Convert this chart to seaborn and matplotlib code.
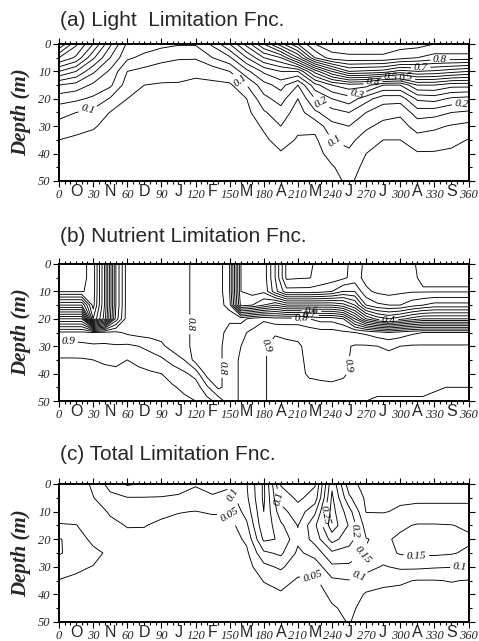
import numpy as np
import pandas as pd
import seaborn as sns
import matplotlib
matplotlib.use("Agg")
import matplotlib.pyplot as plt
from matplotlib.ticker import MultipleLocator

# ---------------- data ----------------
depths = [0, 5, 10, 15, 20, 25, 30, 35, 40, 45, 50]
days15 = list(range(0, 361, 15))
days10 = list(range(0, 361, 10))
xtick_vals = list(range(0, 361, 30))
ytick_vals = list(range(0, 51, 10))
months = ["O", "N", "D", "J", "F", "M", "A", "M", "J", "J", "A", "S"]
month_pos = list(range(15, 360, 30))

# (a) light limitation, one list per day (days15), values at depths
light_cols = [
    [0.70, 0.55, 0.40, 0.25, 0.17, 0.12, 0.08, 0.05, 0.03, 0.02, 0.01],
    [0.56, 0.49, 0.35, 0.23, 0.16, 0.10, 0.065, 0.042, 0.03, 0.02, 0.01],
    [0.45, 0.36, 0.26, 0.19, 0.14, 0.085, 0.055, 0.035, 0.025, 0.015, 0.01],
    [0.31, 0.25, 0.19, 0.16, 0.095, 0.048, 0.035, 0.025, 0.02, 0.015, 0.01],
    [0.19, 0.16, 0.10, 0.075, 0.05, 0.035, 0.025, 0.02, 0.015, 0.01, 0.005],
    [0.18, 0.135, 0.085, 0.05, 0.04, 0.03, 0.02, 0.015, 0.01, 0.01, 0.005],
    [0.165, 0.115, 0.075, 0.045, 0.035, 0.025, 0.02, 0.015, 0.01, 0.01, 0.005],
    [0.155, 0.105, 0.07, 0.045, 0.035, 0.025, 0.02, 0.015, 0.01, 0.01, 0.005],
    [0.155, 0.105, 0.06, 0.04, 0.03, 0.025, 0.02, 0.015, 0.01, 0.01, 0.005],
    [0.21, 0.15, 0.07, 0.04, 0.03, 0.025, 0.02, 0.015, 0.01, 0.01, 0.005],
    [0.30, 0.19, 0.10, 0.04, 0.03, 0.025, 0.02, 0.015, 0.01, 0.01, 0.005],
    [0.42, 0.30, 0.185, 0.10, 0.05, 0.035, 0.025, 0.02, 0.015, 0.01, 0.01],
    [0.55, 0.40, 0.26, 0.18, 0.135, 0.093, 0.057, 0.04, 0.03, 0.02, 0.015],
    [0.68, 0.45, 0.30, 0.22, 0.17, 0.13, 0.10, 0.07, 0.045, 0.03, 0.02],
    [0.80, 0.60, 0.30, 0.15, 0.10, 0.075, 0.06, 0.045, 0.035, 0.025, 0.02],
    [0.90, 0.80, 0.47, 0.28, 0.20, 0.14, 0.065, 0.04, 0.03, 0.02, 0.015],
    [0.93, 0.88, 0.60, 0.35, 0.25, 0.18, 0.135, 0.10, 0.07, 0.045, 0.035],
    [0.93, 0.89, 0.70, 0.38, 0.28, 0.20, 0.15, 0.115, 0.09, 0.075, 0.06],
    [0.93, 0.89, 0.69, 0.37, 0.22, 0.15, 0.11, 0.075, 0.05, 0.035, 0.025],
    [0.93, 0.89, 0.68, 0.30, 0.17, 0.12, 0.085, 0.05, 0.035, 0.025, 0.02],
    [0.92, 0.87, 0.63, 0.30, 0.17, 0.11, 0.08, 0.05, 0.035, 0.025, 0.02],
    [0.92, 0.85, 0.65, 0.40, 0.26, 0.175, 0.12, 0.08, 0.045, 0.03, 0.02],
    [0.90, 0.83, 0.64, 0.40, 0.27, 0.17, 0.11, 0.075, 0.045, 0.03, 0.02],
    [0.90, 0.83, 0.62, 0.37, 0.24, 0.15, 0.095, 0.065, 0.04, 0.03, 0.02],
    [0.90, 0.83, 0.60, 0.37, 0.23, 0.14, 0.085, 0.048, 0.035, 0.025, 0.02],
]

# (b) nutrient limitation, one list per day (days10)
nutrient_cols = [
    [0.03, 0.03, 0.045, 0.30, 0.60, 0.86, 0.92, 0.955, 0.97, 0.97, 0.97],
    [0.03, 0.03, 0.045, 0.30, 0.60, 0.86, 0.92, 0.955, 0.97, 0.97, 0.97],
    [0.035, 0.035, 0.045, 0.30, 0.60, 0.86, 0.915, 0.955, 0.965, 0.97, 0.97],
    [0.07, 0.07, 0.07, 0.08, 0.15, 0.85, 0.91, 0.95, 0.965, 0.97, 0.97],
    [0.30, 0.30, 0.30, 0.30, 0.32, 0.86, 0.91, 0.945, 0.96, 0.97, 0.97],
    [0.65, 0.65, 0.65, 0.65, 0.67, 0.86, 0.905, 0.94, 0.96, 0.97, 0.97],
    [0.83, 0.83, 0.83, 0.83, 0.83, 0.84, 0.91, 0.95, 0.96, 0.97, 0.97],
    [0.83, 0.83, 0.83, 0.83, 0.83, 0.83, 0.90, 0.94, 0.96, 0.97, 0.97],
    [0.83, 0.83, 0.83, 0.83, 0.83, 0.83, 0.88, 0.93, 0.955, 0.97, 0.97],
    [0.83, 0.83, 0.83, 0.83, 0.83, 0.83, 0.86, 0.91, 0.95, 0.96, 0.97],
    [0.83, 0.83, 0.83, 0.83, 0.83, 0.83, 0.83, 0.88, 0.93, 0.955, 0.97],
    [0.82, 0.82, 0.82, 0.82, 0.82, 0.82, 0.82, 0.85, 0.91, 0.94, 0.96],
    [0.78, 0.78, 0.78, 0.78, 0.78, 0.78, 0.78, 0.78, 0.88, 0.93, 0.95],
    [0.78, 0.78, 0.78, 0.78, 0.78, 0.78, 0.78, 0.78, 0.78, 0.86, 0.92],
    [0.78, 0.78, 0.78, 0.78, 0.78, 0.79, 0.79, 0.79, 0.79, 0.79, 0.88],
    [0.70, 0.70, 0.70, 0.72, 0.795, 0.81, 0.82, 0.82, 0.82, 0.82, 0.82],
    [0.35, 0.35, 0.35, 0.38, 0.78, 0.84, 0.85, 0.86, 0.86, 0.86, 0.86],
    [0.33, 0.33, 0.33, 0.40, 0.82, 0.86, 0.87, 0.88, 0.88, 0.88, 0.88],
    [0.33, 0.33, 0.34, 0.45, 0.84, 0.89, 0.895, 0.895, 0.895, 0.895, 0.895],
    [0.20, 0.20, 0.22, 0.50, 0.82, 0.895, 0.915, 0.915, 0.915, 0.915, 0.915],
    [0.04, 0.04, 0.12, 0.45, 0.82, 0.89, 0.91, 0.92, 0.92, 0.92, 0.92],
    [0.04, 0.045, 0.12, 0.45, 0.82, 0.89, 0.905, 0.91, 0.91, 0.91, 0.915],
    [0.045, 0.048, 0.12, 0.45, 0.80, 0.88, 0.89, 0.89, 0.895, 0.91, 0.915],
    [0.06, 0.065, 0.13, 0.45, 0.78, 0.87, 0.88, 0.885, 0.89, 0.91, 0.915],
    [0.07, 0.075, 0.15, 0.45, 0.78, 0.87, 0.88, 0.88, 0.885, 0.91, 0.92],
    [0.085, 0.09, 0.20, 0.42, 0.75, 0.86, 0.89, 0.89, 0.895, 0.91, 0.92],
    [0.12, 0.12, 0.20, 0.35, 0.60, 0.85, 0.905, 0.91, 0.91, 0.92, 0.93],
    [0.09, 0.085, 0.11, 0.20, 0.45, 0.84, 0.905, 0.91, 0.92, 0.93, 0.95],
    [0.08, 0.08, 0.09, 0.16, 0.38, 0.82, 0.90, 0.91, 0.92, 0.94, 0.955],
    [0.07, 0.07, 0.08, 0.15, 0.35, 0.80, 0.895, 0.91, 0.92, 0.94, 0.955],
    [0.08, 0.08, 0.09, 0.15, 0.38, 0.82, 0.90, 0.91, 0.92, 0.94, 0.955],
    [0.09, 0.09, 0.095, 0.18, 0.42, 0.84, 0.905, 0.91, 0.92, 0.94, 0.955],
    [0.12, 0.11, 0.095, 0.20, 0.45, 0.85, 0.905, 0.91, 0.92, 0.94, 0.955],
    [0.13, 0.11, 0.095, 0.22, 0.45, 0.85, 0.905, 0.91, 0.92, 0.945, 0.96],
    [0.13, 0.11, 0.095, 0.22, 0.45, 0.85, 0.905, 0.91, 0.925, 0.95, 0.96],
    [0.13, 0.11, 0.095, 0.22, 0.45, 0.85, 0.905, 0.915, 0.93, 0.95, 0.96],
    [0.13, 0.11, 0.095, 0.22, 0.45, 0.85, 0.905, 0.92, 0.94, 0.95, 0.96],
]

# (c) total limitation, one list per day (days15)
total_cols = [
    [0.02, 0.02, 0.02, 0.055, 0.102, 0.104, 0.074, 0.048, 0.03, 0.02, 0.01],
    [0.017, 0.015, 0.016, 0.052, 0.09, 0.085, 0.06, 0.04, 0.03, 0.02, 0.01],
    [0.06, 0.048, 0.03, 0.02, 0.03, 0.07, 0.048, 0.033, 0.024, 0.015, 0.01],
    [0.12, 0.085, 0.055, 0.04, 0.035, 0.035, 0.03, 0.022, 0.018, 0.013, 0.01],
    [0.156, 0.098, 0.075, 0.052, 0.04, 0.03, 0.022, 0.018, 0.014, 0.01, 0.005],
    [0.145, 0.098, 0.07, 0.052, 0.038, 0.028, 0.02, 0.015, 0.01, 0.008, 0.005],
    [0.135, 0.097, 0.062, 0.04, 0.03, 0.022, 0.018, 0.013, 0.01, 0.008, 0.005],
    [0.125, 0.092, 0.052, 0.037, 0.028, 0.02, 0.016, 0.012, 0.009, 0.007, 0.005],
    [0.105, 0.08, 0.049, 0.033, 0.025, 0.02, 0.015, 0.012, 0.008, 0.007, 0.004],
    [0.13, 0.09, 0.055, 0.032, 0.024, 0.019, 0.015, 0.012, 0.008, 0.007, 0.004],
    [0.11, 0.08, 0.055, 0.03, 0.024, 0.02, 0.015, 0.012, 0.008, 0.007, 0.004],
    [0.148, 0.14, 0.12, 0.09, 0.06, 0.04, 0.03, 0.022, 0.016, 0.012, 0.008],
    [0.26, 0.26, 0.25, 0.24, 0.21, 0.14, 0.085, 0.052, 0.035, 0.025, 0.015],
    [0.045, 0.08, 0.12, 0.16, 0.195, 0.16, 0.11, 0.065, 0.045, 0.03, 0.02],
    [0.035, 0.04, 0.07, 0.098, 0.11, 0.09, 0.065, 0.045, 0.035, 0.025, 0.018],
    [0.045, 0.07, 0.14, 0.19, 0.17, 0.12, 0.07, 0.04, 0.03, 0.02, 0.015],
    [0.29, 0.31, 0.32, 0.33, 0.27, 0.19, 0.14, 0.09, 0.06, 0.045, 0.035],
    [0.12, 0.16, 0.22, 0.245, 0.22, 0.18, 0.14, 0.098, 0.075, 0.06, 0.053],
    [0.08, 0.09, 0.098, 0.13, 0.152, 0.148, 0.12, 0.075, 0.045, 0.035, 0.025],
    [0.09, 0.095, 0.098, 0.12, 0.14, 0.13, 0.095, 0.06, 0.04, 0.03, 0.02],
    [0.09, 0.095, 0.104, 0.14, 0.16, 0.155, 0.11, 0.055, 0.04, 0.03, 0.02],
    [0.092, 0.096, 0.106, 0.155, 0.18, 0.16, 0.11, 0.048, 0.035, 0.025, 0.02],
    [0.092, 0.096, 0.106, 0.155, 0.18, 0.16, 0.105, 0.048, 0.035, 0.025, 0.02],
    [0.092, 0.096, 0.106, 0.152, 0.17, 0.155, 0.102, 0.052, 0.035, 0.025, 0.02],
    [0.092, 0.096, 0.106, 0.14, 0.16, 0.14, 0.098, 0.048, 0.035, 0.025, 0.02],
]

titles = ["(a) Light  Limitation Fnc.", "(b) Nutrient Limitation Fnc.", "(c) Total Limitation Fnc."]

# ---------------- styling ----------------
sns.set_style("ticks")
plt.rcParams["font.family"] = ["Liberation Sans", "DejaVu Sans"]

W, H = 479, 641
fig = plt.figure(figsize=(W / 100, H / 100), dpi=100)

def fx(px):
    return px / W

def fy(px):
    return 1 - px / H

panel_px = [(44, 181), (264, 401), (484, 622)]
title_px = [20, 237, 454]
left_px, right_px = 59, 468.5

std_levels = list(np.round(np.arange(0.05, 0.96, 0.05), 2))
c_levels = [0.05, 0.1, 0.15, 0.2, 0.25, 0.3]

specs = [
    dict(x=days15, cols=light_cols, levels=std_levels,
         lab=[(0.1, (25, 23)), (0.1, (160, 13)), (0.2, (228, 23)), (0.1, (242, 36)),
              (0.3, (262, 18.5)), (0.4, (276, 14)), (0.5, (292, 12.5)), (0.6, (305, 11.5)),
              (0.7, (318, 9)), (0.8, (335, 6.5)), (0.2, (354, 22))],
         fmt=lambda v: f"{v:.1f}"),
    dict(x=days10, cols=nutrient_cols, levels=std_levels,
         lab=[(0.9, (8, 28.5)), (0.8, (117, 22)), (0.8, (148, 38)), (0.9, (182, 30)),
              (0.8, (213, 20.5)), (0.7, (220, 18.5)), (0.6, (222, 17)), (0.9, (253, 37)),
              (0.4, (290, 20))],
         fmt=lambda v: f"{v:.1f}"),
    dict(x=days15, cols=total_cols, levels=c_levels,
         lab=[(0.05, (153, 9.5)), (0.1, (157, 3)), (0.1, (195, 5)), (0.25, (242, 12)),
              (0.2, (258, 17)), (0.15, (270, 27.5)), (0.1, (264, 34)), (0.05, (223, 33)),
              (0.15, (314, 27)), (0.1, (352, 28))],
         fmt=lambda v: f"{v:.2f}".rstrip("0")),
]

serif = ["Liberation Serif", "DejaVu Serif"]

for i, sp in enumerate(specs):
    top, bot = panel_px[i]
    ax = fig.add_axes([fx(left_px), fy(bot), fx(right_px - left_px), (bot - top) / H])
    Z = np.array(sp["cols"]).T
    df = pd.DataFrame(Z, index=depths, columns=sp["x"])
    X, Y, V = df.columns.values, df.index.values, df.values
    lab_levels = sorted(set(l for l, _ in sp["lab"]))
    plain_levels = [lv for lv in sp["levels"] if round(lv, 2) not in lab_levels]
    ax.contour(X, Y, V, levels=plain_levels, colors="k", linewidths=0.65)
    cs_lab = ax.contour(X, Y, V, levels=lab_levels, colors="k", linewidths=0.65)
    texts = cs_lab.clabel(manual=[p for _, p in sp["lab"]], inline=True,
                          inline_spacing=2, fontsize=8, fmt=sp["fmt"])
    for t in texts:
        t.set_fontfamily(serif)
        t.set_fontstyle("italic")
    ax.set_xlim(0, 360)
    ax.set_ylim(50, 0)
    ax.set_xticks(xtick_vals)
    ax.set_yticks(ytick_vals)
    ax.xaxis.set_minor_locator(MultipleLocator(5))
    ax.yaxis.set_minor_locator(MultipleLocator(5))
    ax.tick_params(which="both", direction="out", top=True, right=True,
                   labeltop=False, labelright=False, width=0.8, color="k")
    ax.tick_params(which="major", length=4, pad=2)
    ax.tick_params(which="minor", length=2.5)
    for lab in ax.get_xticklabels() + ax.get_yticklabels():
        lab.set_fontfamily(serif)
        lab.set_fontstyle("italic")
        lab.set_fontsize(9)
    for s in ax.spines.values():
        s.set_linewidth(1.4)
        s.set_color("k")
    sec = ax.secondary_xaxis("bottom")
    sec.set_xticks(month_pos, labels=months)
    sec.tick_params(length=0, pad=2.5, labelsize=11.5)
    for lab in sec.get_xticklabels():
        lab.set_fontfamily(["Liberation Sans", "DejaVu Sans"])
    sec.spines["bottom"].set_visible(False)
    ax.grid(False)
    fig.text(fx(60), fy(title_px[i]), titles[i], ha="left", va="center",
             fontsize=15, family=["Liberation Sans", "DejaVu Sans"])
    fig.text(fx(21), fy((top + bot) / 2), "Depth (m)", rotation=90, ha="center",
             va="center", fontsize=15, fontweight="bold", fontstyle="italic", family=serif)

fig.savefig("out.png", dpi=100)
